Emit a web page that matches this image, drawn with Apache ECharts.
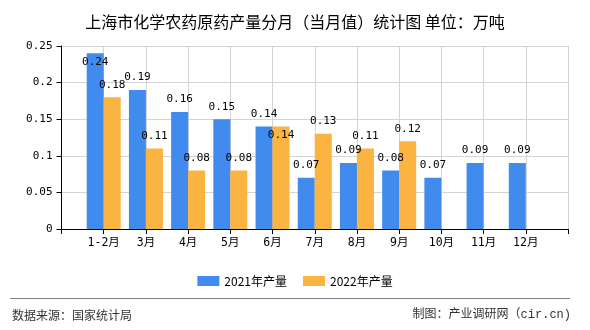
<!DOCTYPE html>
<html>
<head>
<meta charset="utf-8">
<script src="https://cdn.jsdelivr.net/npm/echarts@6/dist/echarts.min.js"></script>
<style>
html,body{margin:0;padding:0;background:#fff;}
#c{width:590px;height:330px;}
</style>
</head>
<body>
<div id="c"></div>
<script>
var titleText = '上海市化学农药原药产量分月（当月值）统计图 单位：万吨';
var categories = ['1-2月','3月','4月','5月','6月','7月','8月','9月','10月','11月','12月'];
var seriesNames = ['2021年产量','2022年产量'];
var values2021 = [0.24,0.19,0.16,0.15,0.14,0.07,0.09,0.08,0.07,0.09,0.09];
var values2022 = [0.18,0.11,0.08,0.08,0.14,0.13,0.11,0.12,null,null,null];
var yTicks = {min:0, max:0.25, interval:0.05};
var sourceText = '数据来源：国家统计局';
var creditText = '制图：产业调研网（cir.cn)';

var BLUE = '#418bee';
var ORANGE = '#fbb342';
var GRID = {left:61.5, right:22, top:46, bottom:101};
var numFont = '"DejaVu Sans Mono","Noto Sans CJK SC",monospace';

function pad(arr){ return ['-'].concat(arr.map(function(v){return v==null?'-':v;})).concat(['-']); }
var axisData = [''].concat(categories).concat([' ']);

var chart = echarts.init(document.getElementById('c'));
var labelShift = 21;

chart.setOption({
  animation:false,
  backgroundColor:'#fff',
  title:{
    text:titleText, left:'center', top:9,
    textStyle:{fontSize:16, fontWeight:'normal', color:'#000', fontFamily:'"Noto Sans CJK SC",sans-serif'}
  },
  legend:{
    data:seriesNames, left:'center', top:270, itemWidth:22, itemHeight:10, itemGap:16,
    icon:'rect',
    textStyle:{fontSize:12, color:'#000', fontFamily:'"Noto Sans CJK SC",sans-serif'}
  },
  grid:GRID,
  xAxis:{
    type:'category', data:axisData, boundaryGap:false,
    axisLine:{lineStyle:{color:'#000', width:1}},
    axisTick:{show:true, length:5, interval:0, lineStyle:{color:'#000'}},
    axisLabel:{interval:0, margin:8, fontSize:11.5, color:'#000', fontFamily:numFont},
    splitLine:{show:true, interval:0, lineStyle:{color:'#d4d4d4'}}
  },
  yAxis:{
    type:'value', min:yTicks.min, max:yTicks.max, interval:yTicks.interval,
    axisLine:{show:true, lineStyle:{color:'#000'}},
    axisTick:{show:true, length:5, lineStyle:{color:'#000'}},
    axisLabel:{margin:9, fontSize:11, color:'#000', fontFamily:numFont},
    splitLine:{lineStyle:{color:'#d4d4d4'}}
  },
  series:[
    {name:seriesNames[0], type:'bar', data:pad(values2021), barWidth:17, barGap:'0%',
     itemStyle:{color:BLUE},
     label:{show:true, position:'top', distance:7, fontSize:11, color:'#000', fontFamily:numFont}},
    {name:seriesNames[1], type:'bar', data:pad(values2022), barWidth:17, barGap:'0%',
     itemStyle:{color:ORANGE},
     label:{show:true, position:'top', distance:7, fontSize:11, color:'#000', fontFamily:numFont}}
  ],
  labelLayout:function(p){
    var i = p.dataIndex - 1;
    if (p.labelRect.y < GRID.top) return {dy:labelShift};
    if (p.seriesIndex === 1 && i >= 0 && values2021[i] === values2022[i]) return {dy:labelShift};
    return {};
  },
  graphic:[
    {type:'line', shape:{x1:10, y1:298.5, x2:570, y2:298.5}, style:{stroke:'#808080', lineWidth:1}},
    {type:'text', left:12, top:309, style:{text:sourceText, fontSize:12, fill:'#333', fontFamily:'"Noto Sans CJK SC",sans-serif'}},
    {type:'text', right:19, top:309, style:{text:creditText, fontSize:12, fill:'#333', fontFamily:'"Liberation Mono","Noto Sans CJK SC",monospace'}}
  ]
});
</script>
</body>
</html>
